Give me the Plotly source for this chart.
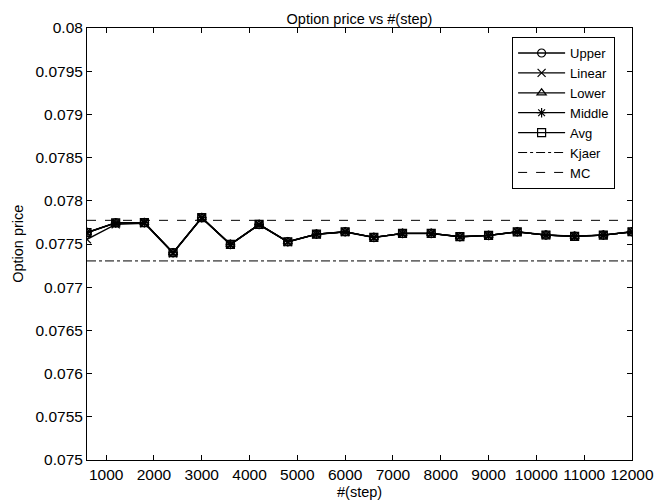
import plotly.graph_objects as go

steps = [600, 1200, 1800, 2400, 3000, 3600, 4200, 4800, 5400, 6000,
         6600, 7200, 7800, 8400, 9000, 9600, 10200, 10800, 11400, 12000]

upper = [0.077635, 0.077746, 0.077748, 0.077400, 0.077806, 0.077497, 0.077727, 0.077527, 0.077615, 0.077642,
         0.077577, 0.077624, 0.077624, 0.077585, 0.077600, 0.077642, 0.077604, 0.077590, 0.077604, 0.077642]
linear = [0.077554, 0.077728, 0.077740, 0.077392, 0.077800, 0.077492, 0.077722, 0.077523, 0.077611, 0.077639,
          0.077574, 0.077621, 0.077621, 0.077582, 0.077598, 0.077640, 0.077602, 0.077588, 0.077602, 0.077640]
lower = [0.077630, 0.077744, 0.077746, 0.077398, 0.077804, 0.077495, 0.077725, 0.077525, 0.077613, 0.077641,
         0.077576, 0.077623, 0.077623, 0.077584, 0.077599, 0.077641, 0.077603, 0.077589, 0.077603, 0.077641]
middle = [0.077632, 0.077745, 0.077747, 0.077399, 0.077805, 0.077496, 0.077726, 0.077526, 0.077614, 0.077641,
          0.077576, 0.077623, 0.077623, 0.077584, 0.077599, 0.077641, 0.077603, 0.077589, 0.077603, 0.077641]
avg = [0.077633, 0.077745, 0.077747, 0.077399, 0.077805, 0.077496, 0.077726, 0.077526, 0.077614, 0.077642,
       0.077577, 0.077623, 0.077624, 0.077585, 0.077600, 0.077641, 0.077604, 0.077589, 0.077603, 0.077642]
kjaer = 0.077304
mc = 0.077774

x_ticks = [1000, 2000, 3000, 4000, 5000, 6000, 7000, 8000, 9000, 10000, 11000, 12000]
y_ticks = [0.075, 0.0755, 0.076, 0.0765, 0.077, 0.0775, 0.078, 0.0785, 0.079, 0.0795, 0.08]
y_tick_text = ["0.075", "0.0755", "0.076", "0.0765", "0.077", "0.0775", "0.078", "0.0785", "0.079", "0.0795", "0.08"]

FONT = "Liberation Sans, Arial, Helvetica, sans-serif"
TICK_SIZE = 15.5

fig = go.Figure()
series = [("Upper", upper, "circle-open"), ("Linear", linear, "x-thin-open"),
          ("Lower", lower, "triangle-up-open"), ("Middle", middle, "asterisk-open"),
          ("Avg", avg, "square-open")]
for name, vals, sym in series:
    fig.add_trace(go.Scatter(
        x=steps, y=vals, name=name, mode="lines+markers",
        line=dict(color="black", width=1.3),
        marker=dict(symbol=sym, size=8, color="black", line=dict(color="black", width=1.2)),
    ))

fig.add_trace(go.Scatter(x=[steps[0], steps[-1]], y=[kjaer, kjaer], name="Kjaer", mode="lines",
                         line=dict(color="black", width=1, dash="dashdot")))
fig.add_trace(go.Scatter(x=[steps[0], steps[-1]], y=[mc, mc], name="MC", mode="lines",
                         line=dict(color="black", width=1, dash="dash")))

axis_common = dict(showline=True, linecolor="black", linewidth=1, mirror="ticks",
                   ticks="inside", ticklen=5, tickcolor="black", showgrid=False, zeroline=False,
                   automargin=False,
                   tickfont=dict(family=FONT, size=TICK_SIZE, color="black"))

fig.update_layout(
    width=654, height=504,
    margin=dict(l=87, r=22, t=28, b=44, autoexpand=False),
    paper_bgcolor="white", plot_bgcolor="white",
    font=dict(family=FONT, size=14, color="black"),
    title=dict(text="Option price vs #(step)", x=0.5, xref="paper", xanchor="center",
               y=1, yref="paper", yanchor="bottom", pad=dict(b=4),
               font=dict(family=FONT, size=14.5, color="black")),
    xaxis=dict(range=[600, 12000], tickvals=x_ticks, ticktext=[str(v) for v in x_ticks],
               **axis_common),
    yaxis=dict(range=[0.075, 0.08], tickvals=y_ticks, ticktext=y_tick_text,
               **axis_common),
    legend=dict(x=0.78, y=0.979, xanchor="left", yanchor="top",
                bordercolor="black", borderwidth=1, bgcolor="white",
                font=dict(family=FONT, size=13, color="black"),
                tracegroupgap=0, itemwidth=47),
    showlegend=True,
    annotations=[
        dict(text="#(step)", x=0.5, y=-0.074, xref="paper", yref="paper",
             xanchor="center", yanchor="middle", showarrow=False,
             font=dict(family=FONT, size=14.5, color="black")),
        dict(text="Option price", x=-0.127, y=0.5, xref="paper", yref="paper",
             xanchor="center", yanchor="middle", showarrow=False, textangle=-90,
             font=dict(family=FONT, size=14.5, color="black")),
    ],
)

fig.write_html("out.html")
